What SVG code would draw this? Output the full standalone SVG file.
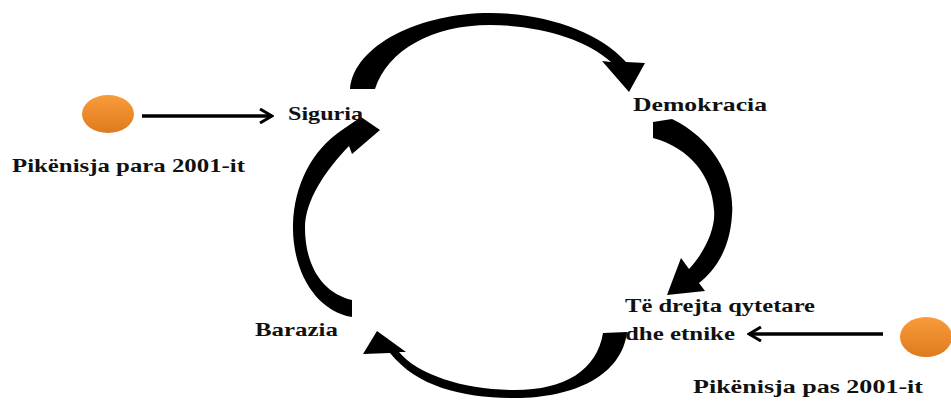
<svg xmlns="http://www.w3.org/2000/svg" width="951" height="401" viewBox="0 0 951 401">
<defs>
<linearGradient id="org" x1="0" y1="0" x2="0" y2="1">
<stop offset="0" stop-color="#F99C3A"/>
<stop offset="1" stop-color="#DF7A1F"/>
</linearGradient>
<marker id="chev" viewBox="0 0 16 16" refX="14" refY="8" markerWidth="16" markerHeight="16" markerUnits="userSpaceOnUse" orient="auto">
<path d="M2,1 L14,8 L2,15" fill="none" stroke="#000" stroke-width="3"/>
</marker>
<style>
.t{font-family:"Liberation Serif","Times New Roman",serif;font-weight:bold;font-size:19px;fill:#111;}
.big{fill:#000;}
.ln{stroke:#000;stroke-width:3.5;fill:none;}
.dot{fill:url(#org);}
</style>
</defs>
<rect width="951" height="401" fill="#fff"/>
<g id="connectors">
<path class="big" d="M350,89 C354,45 420,13 490,13 C545,13 600,32 626,62 L645,63 L629,92 L602,61 L611,62 C585,38 536,25 490,25 C432,25 388,50 375,89 Z"/>
<path class="big" d="M653,122 L672,119 C715,140 735,180 732,215 C730,248 716,270 699,283 L705,291 L667,295 L681,258 L689,269 C705,252 716,228 714,210 C712,176 690,148 653,138 Z"/>
<path class="big" d="M627,332 C622,375 575,398 515,398 C465,398 418,388 390,353 L363,354 L377,331 L406,352 L399,352 C418,375 465,390 515,390 C565,390 597,370 603,333 Z"/>
<path class="big" d="M352,317 C315,311 292,270 293,225 C294,185 312,150 342,130 L361,117 L380,130 L352,154 L349,146 C326,170 305,200 305,228 C305,265 322,293 352,300 Z"/>
<line class="ln" x1="142" y1="116" x2="272" y2="116" marker-end="url(#chev)"/>
<line class="ln" x1="883" y1="334" x2="749" y2="334" marker-end="url(#chev)"/>
</g>
<g id="start-before">
<ellipse class="dot" cx="108" cy="114" rx="26" ry="19"/>
<text class="t" x="12" y="172" font-size="20" textLength="233" lengthAdjust="spacingAndGlyphs">Pikënisja para 2001-it</text>
</g>
<g id="start-after">
<ellipse class="dot" cx="926" cy="337" rx="26" ry="20"/>
<text class="t" x="693" y="393" font-size="20" textLength="230" lengthAdjust="spacingAndGlyphs">Pikënisja pas 2001-it</text>
</g>
<g id="siguria">
<text class="t" x="288" y="120" textLength="75" lengthAdjust="spacingAndGlyphs">Siguria</text>
</g>
<g id="demokracia">
<text class="t" x="633" y="111" textLength="134" lengthAdjust="spacingAndGlyphs">Demokracia</text>
</g>
<g id="te-drejta">
<text class="t" x="625" y="312" textLength="190" lengthAdjust="spacingAndGlyphs">Të drejta qytetare</text>
<text class="t" x="625" y="340" textLength="110" lengthAdjust="spacingAndGlyphs">dhe etnike</text>
</g>
<g id="barazia">
<text class="t" x="255" y="336" textLength="83" lengthAdjust="spacingAndGlyphs">Barazia</text>
</g>
</svg>
